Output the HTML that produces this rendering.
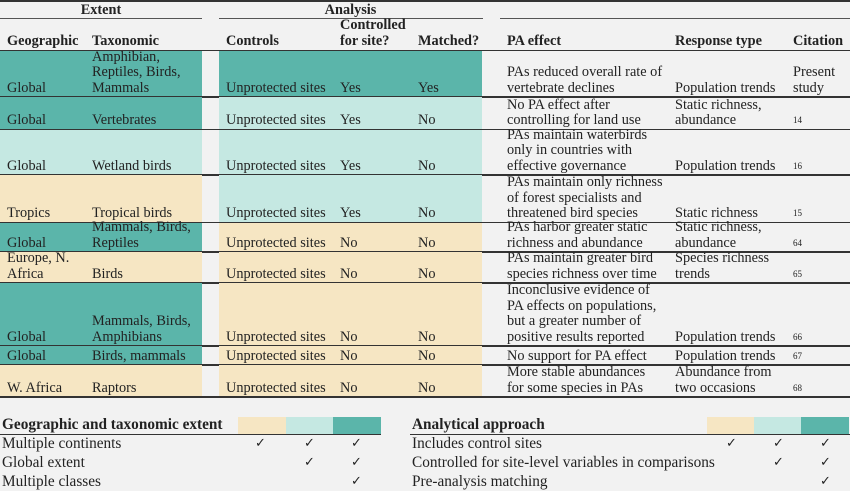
<!DOCTYPE html>
<html><head><meta charset="utf-8">
<style>
body{margin:0;width:850px;height:491px;background:#f2f2f2;position:relative;overflow:hidden;font-family:"Liberation Serif",serif;font-size:14.3px;color:#222;}
.a{position:absolute;}
.c{position:absolute;display:flex;flex-direction:column;justify-content:flex-end;line-height:15.5px;padding-bottom:1px;box-sizing:border-box;white-space:nowrap;}
.h{font-weight:bold;}
.ln{position:absolute;background:#333;}
.sup{font-size:9px;}
.chk{position:absolute;font-family:"DejaVu Sans",sans-serif;font-size:13px;}
.lg{position:absolute;font-size:15.3px;white-space:nowrap;}
</style></head><body>
<div class="ln" style="left:0;top:0;width:850px;height:1.5px"></div>
<div class="a h" style="left:0;width:202px;top:2px;text-align:center">Extent</div>
<div class="a h" style="left:219px;width:263px;top:2px;text-align:center">Analysis</div>
<div class="ln" style="left:0;top:18px;width:202px;height:1px;background:#555"></div>
<div class="ln" style="left:219px;top:18px;width:264px;height:1px;background:#555"></div>
<div class="ln" style="left:500px;top:18px;width:350px;height:1px;background:#555"></div>
<div class="c h" style="left:7px;top:20px;height:30px">Geographic</div>
<div class="c h" style="left:92px;top:20px;height:30px">Taxonomic</div>
<div class="c h" style="left:226px;top:20px;height:30px">Controls</div>
<div class="c h" style="left:340px;top:14px;height:36px">Controlled<br>for site?</div>
<div class="c h" style="left:418px;top:20px;height:30px">Matched?</div>
<div class="c h" style="left:507px;top:20px;height:30px">PA effect</div>
<div class="c h" style="left:675px;top:20px;height:30px">Response type</div>
<div class="c h" style="left:793px;top:20px;height:30px">Citation</div>
<div class="ln" style="left:0;top:49.5px;width:850px;height:1.5px"></div>
<div id="rows"></div>

<div class="lg h" style="left:2px;top:416px">Geographic and taxonomic extent</div>
<div class="a" style="left:238px;top:417px;width:48px;height:17px;background:#f6e6c3"></div>
<div class="a" style="left:286px;top:417px;width:47px;height:17px;background:#c5e8e2"></div>
<div class="a" style="left:333px;top:417px;width:48px;height:17px;background:#5bb5aa"></div>
<div class="ln" style="left:0;top:434px;width:381px;height:1px"></div>
<div class="lg" style="left:2px;top:435px">Multiple continents</div>
<div class="lg" style="left:2px;top:454px">Global extent</div>
<div class="lg" style="left:2px;top:473px">Multiple classes</div>
<div class="chk" style="left:255px;top:436px">✓</div>
<div class="chk" style="left:304px;top:436px">✓</div>
<div class="chk" style="left:351px;top:436px">✓</div>
<div class="chk" style="left:304px;top:455px">✓</div>
<div class="chk" style="left:351px;top:455px">✓</div>
<div class="chk" style="left:351px;top:474px">✓</div>

<div class="lg h" style="left:412px;top:416px">Analytical approach</div>
<div class="a" style="left:707px;top:417px;width:47px;height:17px;background:#f6e6c3"></div>
<div class="a" style="left:754px;top:417px;width:47px;height:17px;background:#c5e8e2"></div>
<div class="a" style="left:801px;top:417px;width:48px;height:17px;background:#5bb5aa"></div>
<div class="ln" style="left:410px;top:434px;width:440px;height:1px"></div>
<div class="lg" style="left:412px;top:435px">Includes control sites</div>
<div class="lg" style="left:412px;top:454px">Controlled for site-level variables in comparisons</div>
<div class="lg" style="left:412px;top:473px">Pre-analysis matching</div>
<div class="chk" style="left:726px;top:436px">✓</div>
<div class="chk" style="left:773px;top:436px">✓</div>
<div class="chk" style="left:820px;top:436px">✓</div>
<div class="chk" style="left:773px;top:455px">✓</div>
<div class="chk" style="left:820px;top:455px">✓</div>
<div class="chk" style="left:820px;top:474px">✓</div>

<script>
const T="#5bb5aa",L="#c5e8e2",N="#f6e6c3";
const bounds=[[51,97],[97,129.5],[129.5,175],[175,222.5],[222.5,252],[252,283],[283,346],[346,365],[365,397]];
const extColors=[T,T,L,N,T,N,T,T,N];
const anaColors=[T,L,L,L,N,N,N,N,N];
const geo=["Global","Global","Global","Tropics","Global","Europe, N.<br>Africa","Global","Global","W. Africa"];
const tax=["Amphibian,<br>Reptiles, Birds,<br>Mammals","Vertebrates","Wetland birds","Tropical birds","Mammals, Birds,<br>Reptiles","Birds","Mammals, Birds,<br>Amphibians","Birds, mammals","Raptors"];
const ctrl=["Unprotected sites","Unprotected sites","Unprotected sites","Unprotected sites","Unprotected sites","Unprotected sites","Unprotected sites","Unprotected sites","Unprotected sites"];
const site=["Yes","Yes","Yes","Yes","No","No","No","No","No"];
const match=["Yes","No","No","No","No","No","No","No","No"];
const eff=["PAs reduced overall rate of<br>vertebrate declines","No PA effect after<br>controlling for land use","PAs maintain waterbirds<br>only in countries with<br>effective governance","PAs maintain only richness<br>of forest specialists and<br>threatened bird species","PAs harbor greater static<br>richness and abundance","PAs maintain greater bird<br>species richness over time","Inconclusive evidence of<br>PA effects on populations,<br>but a greater number of<br>positive results reported","No support for PA effect","More stable abundances<br>for some species in PAs"];
const resp=["Population trends","Static richness,<br>abundance","Population trends","Static richness","Static richness,<br>abundance","Species richness<br>trends","Population trends","Population trends","Abundance from<br>two occasions"];
const cit=["Present<br>study","<span class='sup'>14</span>","<span class='sup'>16</span>","<span class='sup'>15</span>","<span class='sup'>64</span>","<span class='sup'>65</span>","<span class='sup'>66</span>","<span class='sup'>67</span>","<span class='sup'>68</span>"];
const host=document.getElementById('rows');
function box(x,t,w,h,bg,name){const d=document.createElement('div');d.className='a';d.style.cssText=`left:${x}px;top:${t}px;width:${w}px;height:${h}px;background:${bg}`;


host.appendChild(d);}
function cell(x,t,h,html,name){const d=document.createElement('div');d.className='c';d.style.cssText=`left:${x}px;top:${t}px;height:${h}px`;d.innerHTML=html;


host.appendChild(d);}
bounds.forEach((b,i)=>{const t=b[0],h=b[1]-b[0];
box(0,t,202,h,extColors[i],'extent-fill');
box(219,t,263,h,anaColors[i],'analysis-fill');
cell(7,t,h,geo[i],'geographic-cell');
cell(92,t,h,tax[i],'taxonomic-cell');
cell(226,t,h,ctrl[i],'controls-cell');
cell(340,t,h,site[i],'controlled-cell');
cell(418,t,h,match[i],'matched-cell');
cell(507,t,h,eff[i],'pa-effect-cell');
cell(675,t,h,resp[i],'response-cell');
cell(793,t,h,cit[i],'citation-cell');
const r=document.createElement('div');r.className='ln';r.style.cssText=`left:0;top:${b[1]-0.75}px;width:850px;height:1.5px`;


host.appendChild(r);});
</script>
</body></html>
